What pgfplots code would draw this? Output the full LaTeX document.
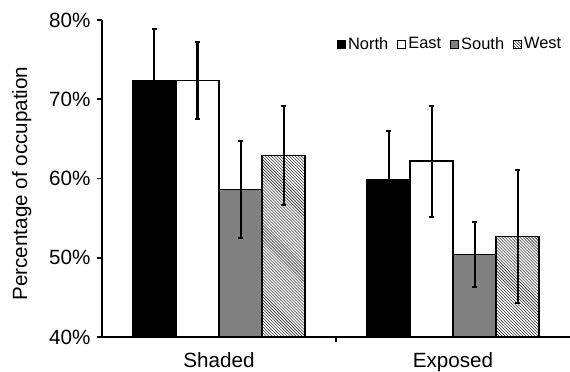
\documentclass[border=0pt]{standalone}
\usepackage{fontspec}
\setmainfont{Liberation Sans}
\usepackage{pgfplots}
\pgfplotsset{compat=1.18}
\usetikzlibrary{patterns}
\definecolor{southgray}{RGB}{128,128,128}
\begin{document}
\begin{tikzpicture}
\begin{axis}[
  scale only axis, width=468bp, height=317bp,
  at={(0,0)}, anchor=south west,
  xmin=-0.5, xmax=1.5, ymin=40, ymax=80,
  axis lines=left, axis line style={-, line width=1.5bp, black},
  /pgf/number format/assume math mode=true,
  ytick={40,50,60,70,80},
  yticklabel={\pgfmathprintnumber{\tick}\%},
  xtick={0,1}, xticklabels={Shaded,Exposed},
  minor xtick={0.5},
  tick align=outside,
  major x tick style={draw=none},
  minor x tick style={line width=1.5bp, black},
  y tick style={line width=1.5bp, black},
  major tick length=5bp, minor tick length=5bp,
  tick label style={font=\fontsize{20.7}{24}\selectfont},
  yticklabel style={xshift=-3bp},
  xticklabel style={yshift=-7bp},
  ylabel={Percentage of occupation},
  every axis y label/.style={at={(axis description cs:0,0.5)}, xshift=-90bp, yshift=-5bp, rotate=90, anchor=north, inner sep=0pt, font=\fontsize{20.7}{24}\selectfont},
  ybar, bar width=43bp,
  error bars/y dir=both, error bars/y explicit,
  error bars/error bar style={line width=2bp, black},
  error bars/error mark options={rotate=90, mark size=2.5bp, line width=2bp, black},
  legend style={at={(0.502,0.924)}, anchor=west, draw=none, fill=none, inner sep=0pt,
    font=\fontsize{16.5}{19}\selectfont, /tikz/every even column/.append style={column sep=7bp}},
  legend columns=4,
  legend image code/.code={\draw[#1, line width=1bp] (0bp,-4bp) rectangle (8bp,4bp);},
]
\addplot[fill=black, draw=black, line width=1.2bp, bar shift=-64.5bp]
  coordinates {(0,72.3) +- (0,6.6) (1,59.8) +- (0,6.2)};
\addplot[fill=white, draw=black, line width=1.2bp, bar shift=-21.5bp]
  coordinates {(0,72.35) +- (0,4.85) (1,62.2) +- (0,7.0)};
\addplot[fill=southgray, draw=black, line width=1.2bp, bar shift=21.5bp]
  coordinates {(0,58.6) +- (0,6.15) (1,50.4) +- (0,4.05)};
\addplot[fill=white, draw=black, line width=1.2bp, bar shift=64.5bp, postaction={pattern=north west lines}]
  coordinates {(0,62.9) +- (0,6.2) (1,52.7) +- (0,8.4)};
\legend{North,East,South,West}
\end{axis}
\pgfresetboundingbox
\path[use as bounding box] (-102bp,-35bp) rectangle (468bp,337bp);
\end{tikzpicture}
\end{document}
